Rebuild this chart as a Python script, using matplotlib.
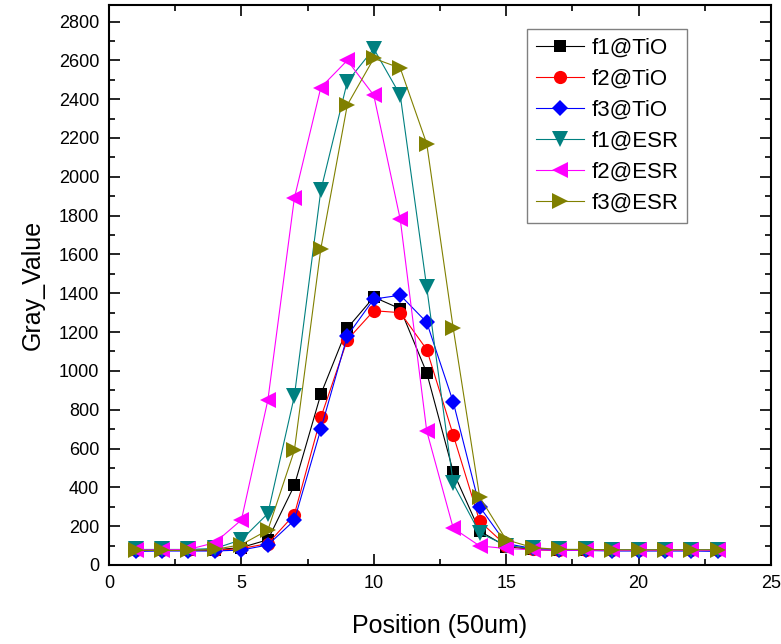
"""Gray value profiles along position for TiO and ESR samples"""

import matplotlib
matplotlib.use('Agg')
import matplotlib.pyplot as plt
from matplotlib.ticker import MultipleLocator

plt.rcParams['font.family'] = ['Liberation Sans', 'DejaVu Sans']

position = list(range(1, 24))

f1_tio = [75, 75, 75, 78, 90, 130, 410, 880, 1220, 1380, 1320, 990, 480,
          175, 95, 80, 75, 75, 75, 75, 75, 75, 75]
f2_tio = [75, 75, 75, 75, 85, 110, 260, 760, 1160, 1310, 1300, 1110, 670,
          225, 100, 80, 75, 75, 75, 75, 75, 75, 75]
f3_tio = [70, 72, 72, 72, 77, 103, 230, 700, 1180, 1370, 1390, 1250, 840,
          300, 110, 85, 75, 75, 72, 72, 72, 72, 70]
f1_esr = [80, 80, 80, 85, 130, 265, 870, 1930, 2490, 2660, 2420, 1430, 420,
          165, 100, 85, 80, 80, 78, 78, 78, 78, 78]
f2_esr = [78, 78, 80, 115, 232, 850, 1890, 2460, 2600, 2420, 1780, 690, 190,
          98, 85, 78, 76, 76, 75, 75, 75, 75, 75]
f3_esr = [75, 75, 75, 80, 105, 180, 590, 1630, 2370, 2610, 2560, 2170, 1220,
          350, 130, 90, 80, 80, 78, 78, 78, 78, 78]

series = [
    ('f1@TiO', f1_tio, 'black', 's', 8.5),
    ('f2@TiO', f2_tio, 'red', 'o', 9.5),
    ('f3@TiO', f3_tio, 'blue', 'D', 8.5),
    ('f1@ESR', f1_esr, '#008080', 'v', 11),
    ('f2@ESR', f2_esr, '#ff00ff', '<', 11),
    ('f3@ESR', f3_esr, '#808000', '>', 11),
]

fig = plt.figure(figsize=(7.81, 6.44), dpi=100)
axis = fig.add_axes([0.1396, 0.1227, 0.8475, 0.8695])

for label, values, color, marker, size in series:
    axis.plot(position, values, color=color, marker=marker, markersize=size,
              linewidth=0.8, markeredgewidth=0, label=label)

axis.set_xlim(0, 25)
axis.set_ylim(0, 2885)
axis.xaxis.set_major_locator(MultipleLocator(5))
axis.xaxis.set_minor_locator(MultipleLocator(2.5))
axis.yaxis.set_major_locator(MultipleLocator(200))
axis.yaxis.set_minor_locator(MultipleLocator(100))
axis.tick_params(which='both', direction='in', top=True, right=True,
                 width=1.2, labelsize=13)
axis.tick_params(which='major', length=8, pad=7)
axis.tick_params(which='minor', length=4)
for spine in axis.spines.values():
    spine.set_linewidth(1.5)

axis.set_xlabel('Position (50um)', fontsize=18, labelpad=16)
axis.set_ylabel('Gray_Value', fontsize=18, labelpad=10)

leg = axis.legend(loc='upper left', bbox_to_anchor=(0.631, 0.957),
                  fontsize=16, frameon=True, fancybox=False, framealpha=1,
                  edgecolor='gray', handlelength=2.2, handletextpad=0.3,
                  labelspacing=0.45, borderpad=0.4, borderaxespad=0)
leg.get_frame().set_linewidth(1.0)

fig.savefig('out.png', dpi=100)
